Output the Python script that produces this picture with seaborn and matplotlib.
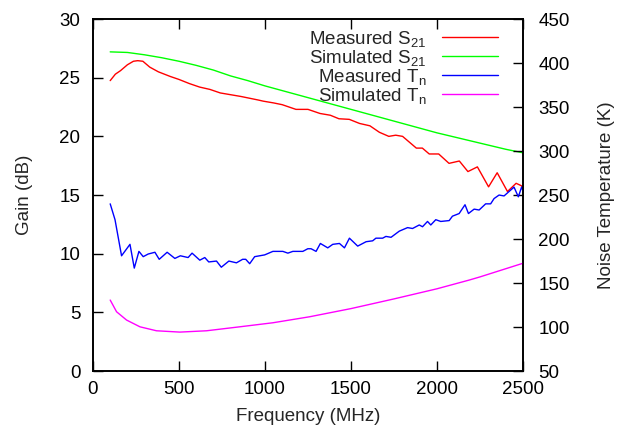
"""Gain and noise temperature vs frequency (gnuplot-style twin axis chart)."""

import matplotlib

matplotlib.use("Agg")
import matplotlib.pyplot as plt
import seaborn as sns

# Measured S21 (dB)
freq_meas_s21 = [100, 130, 160, 200, 235, 260, 290, 330, 380, 450, 500, 560, 620, 680,
                 740, 800, 860, 910, 960, 990, 1050, 1100, 1150, 1180, 1250, 1320, 1380,
                 1430, 1490, 1550, 1610, 1665, 1720, 1760, 1800, 1840, 1880, 1915, 1955,
                 2010, 2070, 2130, 2180, 2235, 2300, 2350, 2410, 2460, 2490, 2500]
gain_meas_s21 = [24.75, 25.3, 25.6, 26.1, 26.4, 26.45, 26.4, 25.9, 25.5, 25.1, 24.85, 24.5,
                 24.2, 24.0, 23.7, 23.55, 23.4, 23.25, 23.1, 23.0, 22.85, 22.7, 22.45, 22.3,
                 22.3, 21.95, 21.8, 21.5, 21.45, 21.1, 20.9, 20.35, 20.0, 20.1, 20.0, 19.5,
                 19.0, 19.0, 18.5, 18.5, 17.7, 17.9, 17.0, 17.4, 15.7, 16.9, 15.3, 16.0,
                 15.8, 15.6]

# Simulated S21 (dB)
freq_sim_s21 = [100, 200, 300, 400, 500, 600, 700, 800, 900, 1000, 1200, 1400, 1600,
                1800, 2000, 2200, 2400, 2500]
gain_sim_s21 = [27.2, 27.15, 26.95, 26.7, 26.4, 26.05, 25.65, 25.15, 24.75, 24.3, 23.5,
                22.7, 21.9, 21.1, 20.3, 19.6, 18.9, 18.6]

# Measured noise temperature (K)
freq_meas_tn = [100, 128, 166, 215, 240, 267, 292, 321, 360, 385, 431, 476, 508, 553, 576,
                621, 650, 673, 718, 746, 790, 834, 870, 888, 911, 940, 998, 1046, 1104,
                1133, 1162, 1220, 1249, 1268, 1297, 1322, 1365, 1394, 1433, 1462, 1491,
                1539, 1588, 1626, 1645, 1684, 1703, 1733, 1781, 1829, 1858, 1897, 1916,
                1945, 1964, 1993, 2022, 2071, 2090, 2129, 2163, 2183, 2216, 2245, 2283,
                2312, 2332, 2361, 2390, 2419, 2448, 2473, 2492, 2500]
temp_meas_tn = [240, 222, 181, 194, 167, 186, 180, 183, 185, 177, 185, 178, 181, 179, 184,
                176, 179, 174, 175, 168, 175, 173, 177, 177, 172, 180, 182, 186, 186, 184,
                186, 186, 189, 189, 186, 195, 190, 194, 195, 190, 201, 192, 197, 198, 201,
                201, 203, 202, 209, 213, 212, 216, 214, 220, 216, 222, 220, 221, 226, 229,
                239, 229, 234, 233, 240, 240, 246, 250, 249, 254, 259, 248, 259, 255]

# Simulated noise temperature (K)
freq_sim_tn = [100, 137, 195, 273, 369, 505, 660, 853, 1046, 1259, 1500, 1750, 2000, 2187,
               2250, 2500]
temp_sim_tn = [130.7, 117.4, 108, 100.3, 95.8, 94.3, 95.8, 100.3, 104.9, 111.7, 121, 132,
               143.5, 153.4, 157, 172.5]

FS = 13.5

sns.set_style("white")
plt.rcParams["font.family"] = ["Liberation Sans", "DejaVu Sans"]
plt.rcParams["mathtext.fontset"] = "custom"
plt.rcParams["mathtext.rm"] = "Liberation Sans"
plt.rcParams["mathtext.it"] = "Liberation Sans:italic"

fig = plt.figure(figsize=(6.2, 4.32), dpi=100)
ax = fig.add_axes([0.15, 0.141, 0.6935, 0.815])
ax2 = ax.twinx()

sns.lineplot(x=freq_meas_s21, y=gain_meas_s21, ax=ax, color="#ff0000", linewidth=1,
             estimator=None, label=r"Measured S$_{\mathrm{21}}$", legend=False)
sns.lineplot(x=freq_sim_s21, y=gain_sim_s21, ax=ax, color="#00ff00", linewidth=1,
             estimator=None, label=r"Simulated S$_{\mathrm{21}}$", legend=False)
sns.lineplot(x=freq_meas_tn, y=temp_meas_tn, ax=ax2, color="#0000ff", linewidth=1,
             estimator=None, label=r"Measured T$_{\mathrm{n}}$", legend=False)
sns.lineplot(x=freq_sim_tn, y=temp_sim_tn, ax=ax2, color="#ff00ff", linewidth=1,
             estimator=None, label=r"Simulated T$_{\mathrm{n}}$", legend=False)

ax.set_xlim(0, 2500)
ax.set_ylim(0, 30)
ax2.set_ylim(50, 450)
ax.set_xticks([0, 500, 1000, 1500, 2000, 2500])
ax.set_yticks(range(0, 31, 5))
ax2.set_yticks(range(50, 451, 50))

ax.tick_params(axis="x", direction="in", length=7, width=1, top=True, bottom=True,
               labelsize=FS, pad=7, colors="black")
ax.tick_params(axis="y", direction="in", length=7, width=1, left=True, right=False,
               labelsize=FS, pad=9, colors="black")
ax2.tick_params(axis="y", direction="in", length=7, width=1, right=True, left=False,
                labelsize=FS, pad=11, colors="black")

for a in (ax, ax2):
    for sp in a.spines.values():
        sp.set_color("black")
        sp.set_linewidth(1.2)

ax.set_xlabel("Frequency (MHz)", fontsize=FS)
ax.set_ylabel("Gain (dB)", fontsize=FS)
ax2.set_ylabel("Noise Temperature (K)", fontsize=FS)
ax.xaxis.set_label_coords(0.5, -0.105)
ax.yaxis.set_label_coords(-0.14, 0.5)
ax2.yaxis.set_label_coords(1.174, 0.5)

handles = ax.get_lines() + ax2.get_lines()
labels = [h.get_label() for h in handles]
ax2.legend(handles, labels, loc="upper right", bbox_to_anchor=(0.942, 0.972),
           frameon=False, fontsize=FS, markerfirst=False, alignment="right",
           handlelength=3.0, handletextpad=0.8, labelspacing=-0.05, borderpad=0,
           borderaxespad=0)

fig.savefig("out.png", dpi=100)
